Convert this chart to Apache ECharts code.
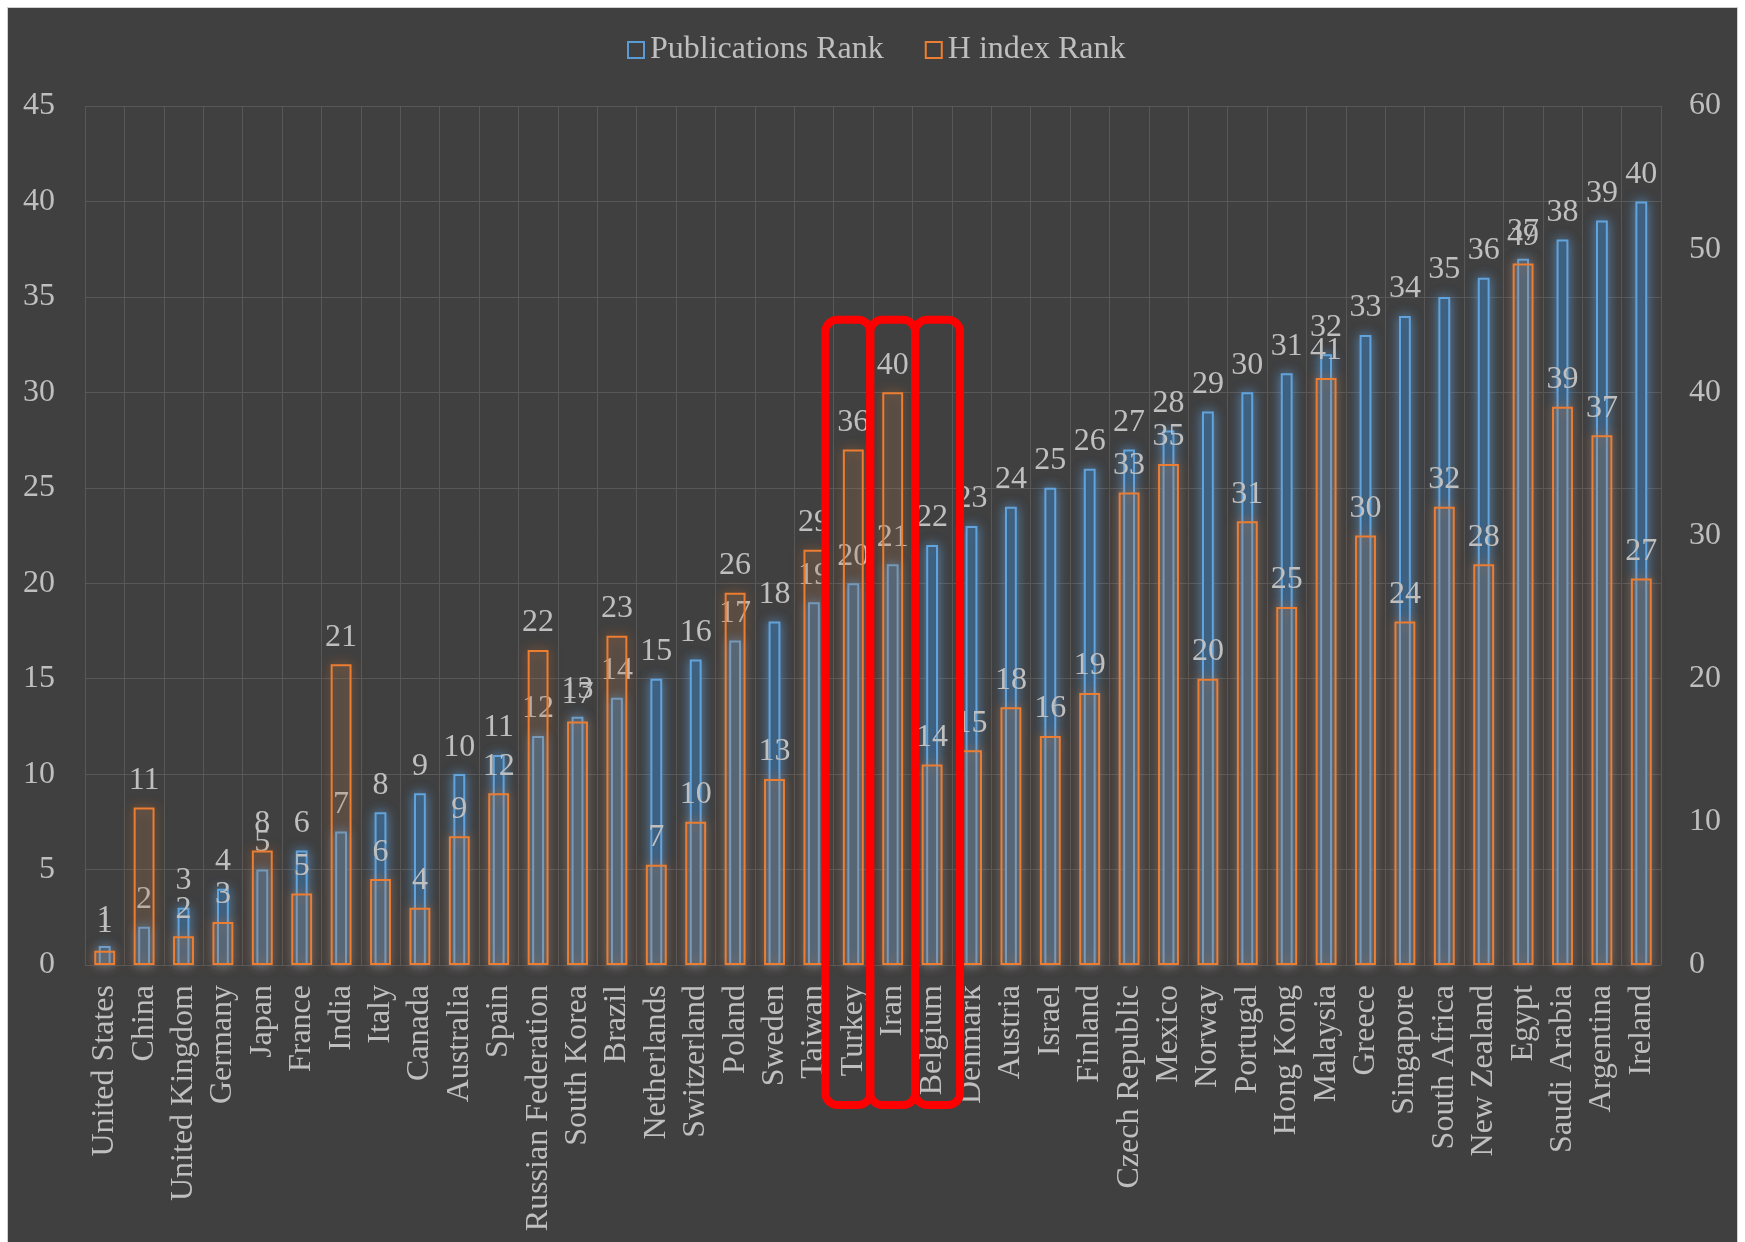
<!DOCTYPE html>
<html>
<head>
<meta charset="utf-8">
<script src="https://cdn.jsdelivr.net/npm/echarts@6/dist/echarts.min.js"></script>
<style>
html,body{margin:0;padding:0;background:#ffffff;}
#chart{position:absolute;left:8px;top:8px;width:1729px;height:1234px;background:#404040;box-shadow:0 0 0 1px #d0d0d0;}
</style>
</head>
<body>
<div id="chart"></div>
<script>
const categories = ["United States","China","United Kingdom","Germany","Japan","France","India","Italy","Canada","Australia","Spain","Russian Federation","South Korea","Brazil","Netherlands","Switzerland","Poland","Sweden","Taiwan","Turkey","Iran","Belgium","Denmark","Austria","Israel","Finland","Czech Republic","Mexico","Norway","Portugal","Hong Kong","Malaysia","Greece","Singapore","South Africa","New Zealand","Egypt","Saudi Arabia","Argentina","Ireland"];
const publicationsRank = [1,2,3,4,5,6,7,8,9,10,11,12,13,14,15,16,17,18,19,20,21,22,23,24,25,26,27,28,29,30,31,32,33,34,35,36,37,38,39,40];
const hIndexRank = [1,11,2,3,8,5,21,6,4,9,12,22,17,23,7,10,26,13,29,36,40,14,15,18,16,19,33,35,20,31,25,41,30,24,32,28,49,39,37,27];
const leftAxisTicks = {min:0, max:45, interval:5};
const rightAxisTicks = {min:0, max:60, interval:10};
const highlighted = ["Turkey","Iran","Belgium"];

const FONT = 'Liberation Serif';
const TXT = '#bfbfbf';
const chart = echarts.init(document.getElementById('chart'), null, {renderer:'canvas'});
const labelStyle = {show:true, position:'top', distance:11, color:TXT, fontFamily:FONT, fontSize:32};

chart.setOption({
  backgroundColor:'#404040',
  animation:false,
  legend:{
    top:21, left:614, itemWidth:16, itemHeight:16, itemGap:41,
    textStyle:{color:TXT, fontFamily:FONT, fontSize:32, padding:[0,0,0,1]},
    data:[
      {name:'Publications Rank', icon:'rect', itemStyle:{color:'#404040', borderColor:'#5b9bd5', borderWidth:2, shadowBlur:0}},
      {name:'H index Rank', icon:'rect', itemStyle:{color:'#404040', borderColor:'#ed7d31', borderWidth:2, shadowBlur:0}}
    ]
  },
  grid:{left:77, right:76, top:98, bottom:277, containLabel:false},
  xAxis:[
    {type:'category', data:categories, axisLine:{show:false}, axisTick:{show:false},
     splitLine:{show:true, interval:0, lineStyle:{color:'#585858', width:1}},
     axisLabel:{interval:0, rotate:90, margin:20, color:TXT, fontFamily:FONT, fontSize:32}},
    {type:'category', data:categories, show:false}
  ],
  yAxis:[
    {type:'value', min:leftAxisTicks.min, max:leftAxisTicks.max, interval:leftAxisTicks.interval,
     axisLine:{show:false}, axisTick:{show:false},
     splitLine:{lineStyle:{color:'#585858', width:1}},
     axisLabel:{margin:30, color:TXT, fontFamily:FONT, fontSize:32}},
    {type:'value', position:'right', min:rightAxisTicks.min, max:rightAxisTicks.max, interval:rightAxisTicks.interval,
     axisLine:{show:false}, axisTick:{show:false}, splitLine:{show:false},
     axisLabel:{margin:28, color:TXT, fontFamily:FONT, fontSize:32}}
  ],
  series:[
    {name:'Publications Rank', type:'bar', xAxisIndex:0, yAxisIndex:0, data:publicationsRank, barWidth:'30%',
     itemStyle:{color:'#3a5772', borderColor:'#62a3dc', borderWidth:2, shadowBlur:12, shadowColor:'rgba(91,155,213,0.75)'},
     label:labelStyle, z:2},
    {name:'H index Rank', type:'bar', xAxisIndex:1, yAxisIndex:1, data:hIndexRank, barWidth:'53%',
     itemStyle:{color:'rgba(120,120,120,0.12)', borderColor:'#ed7d31', borderWidth:2, shadowBlur:12, shadowColor:'rgba(237,125,49,0.7)'},
     label:labelStyle, z:3}
  ]
});

// Red highlight boxes around selected categories
const BOX_TOP_VALUE = 33.8;   // left-axis value of the box top
const BOX_BELOW_AXIS = 140;   // how far the box extends below the axis (px)
const BOX_SCALE = 1.14;       // box width relative to a category band
const c0 = chart.convertToPixel({xAxisIndex:0}, categories[0]);
const c1 = chart.convertToPixel({xAxisIndex:0}, categories[1]);
const band = c1 - c0;
const yTop = chart.convertToPixel({yAxisIndex:0}, BOX_TOP_VALUE);
const yZero = chart.convertToPixel({yAxisIndex:0}, 0);
const midIdx = categories.indexOf(highlighted[Math.floor(highlighted.length/2)]);
const midX = chart.convertToPixel({xAxisIndex:0}, categories[midIdx]);
const bw = band * BOX_SCALE;
const boxes = highlighted.map(name => {
  const i = categories.indexOf(name);
  const cx = midX + (i - midIdx) * bw;
  return {type:'rect', z:100, shape:{x:cx - bw/2, y:yTop, width:bw, height:(yZero + BOX_BELOW_AXIS) - yTop, r:12},
          style:{fill:null, stroke:'#ff0000', lineWidth:8}};
});
chart.setOption({graphic:boxes});
</script>
</body>
</html>
